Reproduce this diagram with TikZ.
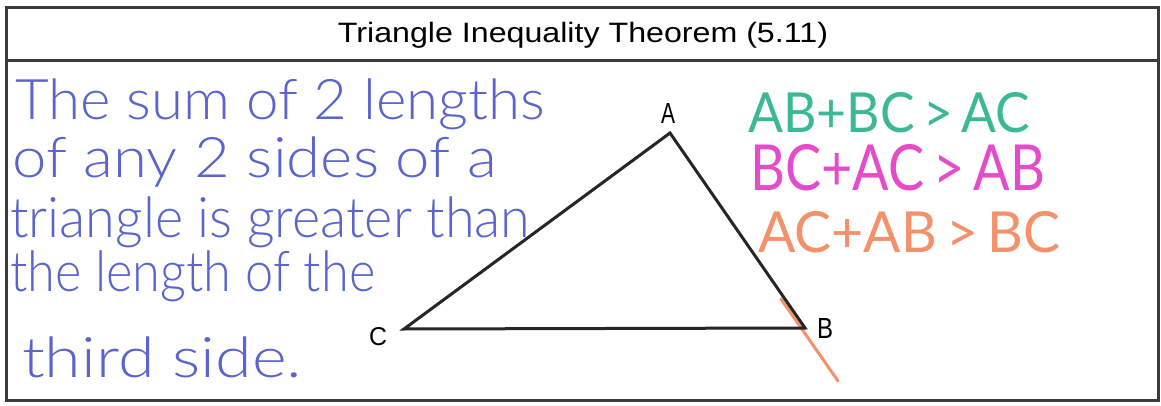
\documentclass[tikz,border=0pt]{standalone}
\usepackage{fontspec}
\setmainfont{Liberation Sans}
\newfontfamily\hand{Lato Light}
\newfontfamily\marker{Lato}
\usepackage{graphicx}
\definecolor{pen}{HTML}{5A64CC}
\definecolor{tealpen}{HTML}{3DB894}
\definecolor{pinkpen}{HTML}{E44CCB}
\definecolor{orangepen}{HTML}{F2916A}
\definecolor{frame}{HTML}{3A3A3A}
\tikzset{
  framebox/.style={draw=frame, line width=3pt},
  hwline/.style={anchor=base west, inner sep=0pt, text=pen},
  ineq/.style={anchor=south west, inner sep=0pt},
  vlabel/.style={inner sep=0pt, font=\fontsize{28}{28}\selectfont},
  side/.style={draw=black!85, line width=3pt, line join=miter}
}
\begin{document}
\begin{tikzpicture}[x=1pt,y=-1pt]
\useasboundingbox (0,0) rectangle (1161,406);
\fill[white] (0,0) rectangle (1161,406);
\draw[framebox] (6,8) rectangle (1158,400);
\draw[framebox] (6,61) -- (1158,61);
\node[anchor=base, inner sep=0pt, font=\fontsize{28}{28}\selectfont] (title) at (583,43) {\resizebox{490pt}{\height}{Triangle Inequality Theorem (5.11)}};
% handwritten statement
\node[hwline] (l1) at (15,120) {\resizebox{530pt}{\height}{\fontsize{56}{56}\hand The sum of 2 lengths}};
\node[hwline] (l2) at (12,178) {\resizebox{485pt}{\height}{\fontsize{56}{56}\hand of any 2 sides of a}};
\node[hwline] (l3) at (10,237) {\resizebox{520pt}{\height}{\fontsize{56}{56}\hand triangle is greater than}};
\node[hwline] (l4) at (10,291) {\resizebox{365pt}{\height}{\fontsize{56}{56}\hand the length of the}};
\node[hwline] (l5) at (22,377) {\resizebox{280pt}{\height}{\fontsize{56}{56}\hand third side.}};
% triangle
\coordinate (A) at (670,133);
\coordinate (B) at (805,328);
\coordinate (C) at (404,329);
\draw[orangepen, line width=3pt, line cap=round] (781,299) -- (838,381);
\draw[side] (C) -- (A) -- (B) -- cycle;
\node[vlabel, anchor=base] (lA) at (668,124) {\resizebox{14pt}{20pt}{A}};
\node[vlabel, anchor=base] (lB) at (825,338) {\resizebox{16pt}{20pt}{B}};
\node[vlabel, anchor=base] (lC) at (378,345) {\resizebox{18pt}{18pt}{C}};
% inequalities
\node[ineq] (e1) at (748,133) {\resizebox{282pt}{40pt}{\color{tealpen}\marker AB+BC\,>\,AC}};
\node[ineq] (e2) at (750,191) {\resizebox{295pt}{46pt}{\color{pinkpen}\marker BC+AC\,>\,AB}};
\node[ineq] (e3) at (758,253) {\resizebox{302pt}{41pt}{\color{orangepen}\marker AC+AB\,>\,BC}};
\end{tikzpicture}
\end{document}
